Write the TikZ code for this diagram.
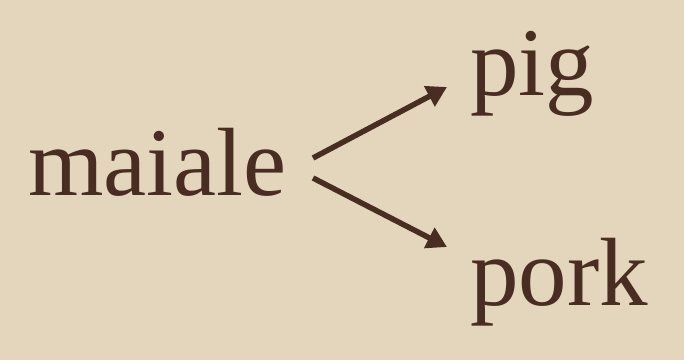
\documentclass[tikz,border=0pt]{standalone}
\usepackage{fontspec}
\setmainfont{Liberation Serif}
\usetikzlibrary{arrows.meta}
\definecolor{paper}{HTML}{E4D6BD}
\definecolor{ink}{HTML}{4A2D22}
\begin{document}
\begin{tikzpicture}[x=1pt,y=1pt,
  word/.style={anchor=base west,inner sep=0pt,text=ink,font=\fontsize{97}{97}\selectfont},
  link/.style={draw=ink,line width=5.5pt,-{Triangle[length=20pt,width=22pt]}}]
\fill[paper] (0,0) rectangle (684,360);
\useasboundingbox (0,0) rectangle (684,360);
\node[word] (m) at (28,165) {maiale};
\node[word] (pig) at (470,265) {pig};
\node[word] (pork) at (470,55) {pork};
\coordinate (s1) at (313,202);
\coordinate (e1) at (447,273);
\coordinate (s2) at (313,182);
\coordinate (e2) at (447,113);
\draw[link] (s1) -- (e1);
\draw[link] (s2) -- (e2);
\end{tikzpicture}
\end{document}
